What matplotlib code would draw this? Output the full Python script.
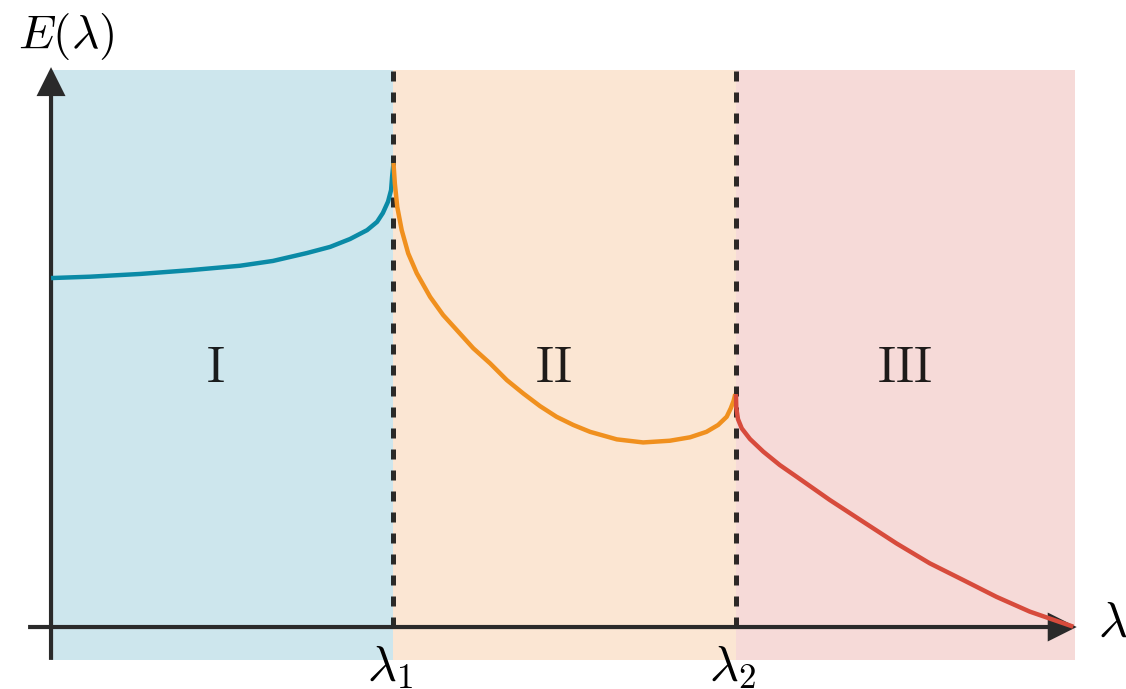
import matplotlib.pyplot as plt
import numpy as np

plt.rcParams['mathtext.fontset'] = 'cm'
plt.rcParams['font.family'] = 'serif'

# phase boundaries
lam1 = 1.0
lam2 = 2.0
lam_end = 2.99

# energy branch in each phase
x_I = [0.0, 0.114, 0.26, 0.406, 0.552, 0.648, 0.747, 0.815, 0.873, 0.923,
       0.952, 0.969, 0.984, 0.993, 0.996, 1.0]
E_I = [1.019, 1.023, 1.031, 1.042, 1.055, 1.069, 1.092, 1.110, 1.133, 1.159,
       1.183, 1.209, 1.242, 1.276, 1.315, 1.355]

x_II = [1.0, 1.004, 1.011, 1.024, 1.043, 1.068, 1.107, 1.145, 1.185, 1.233,
        1.282, 1.331, 1.379, 1.428, 1.476, 1.525, 1.574, 1.652, 1.729, 1.807,
        1.866, 1.914, 1.948, 1.973, 1.985, 1.993, 1.998]
E_II = [1.355, 1.295, 1.227, 1.159, 1.091, 1.033, 0.964, 0.911, 0.867, 0.814,
        0.770, 0.721, 0.682, 0.645, 0.614, 0.590, 0.570, 0.548, 0.539, 0.544,
        0.554, 0.570, 0.590, 0.614, 0.639, 0.660, 0.680]

x_III = [2.0, 2.001, 2.006, 2.017, 2.041, 2.080, 2.128, 2.177, 2.274, 2.372,
         2.469, 2.566, 2.664, 2.761, 2.858, 2.985]
E_III = [0.680, 0.640, 0.607, 0.580, 0.549, 0.512, 0.473, 0.439, 0.371, 0.307,
         0.244, 0.186, 0.137, 0.088, 0.045, 0.001]

phase_names = ['I', 'II', 'III']
phase_edges = [0.0, lam1, lam2, lam_end]
label_x = [0.479, 1.466, 2.493]
shade_colors = ['#cde6ed', '#fbe6d3', '#f6dad8']
line_colors = ['#0a8aa6', '#f0901e', '#d74b3c']

y_top = 1.626
y_bot = -0.096
ink = (0, 0, 0, 0.82)
axis_color = '#2a2a2a'

fig = plt.figure(figsize=(11.26, 6.89), dpi=100)
ax = fig.add_axes([0, 0, 1, 1])
ax.set_xlim(-0.149, 3.139)
ax.set_ylim(-0.181, 1.831)
ax.axis('off')

# background bands for the three phases
for i in range(3):
    ax.fill_between([phase_edges[i], phase_edges[i + 1]], y_bot, y_top,
                    color=shade_colors[i], lw=0, zorder=0)

# phase boundaries
for xb in [lam1, lam2]:
    ax.plot([xb, xb], [0, y_top], color=ink, lw=3.6,
            linestyle=(0, (2.0, 2.2)), zorder=2)

# axes with arrow heads
arrow = dict(arrowstyle='-|>', lw=3, color=axis_color, mutation_scale=40,
             shrinkA=0, shrinkB=0, joinstyle='miter', capstyle='butt')
ax.annotate('', xy=(0, 1.635), xytext=(0, y_bot), arrowprops=arrow, zorder=3)
ax.annotate('', xy=(2.995, 0), xytext=(-0.067, 0), arrowprops=arrow, zorder=3)

# energy curves
for xs, ys, c in zip([x_I, x_II, x_III], [E_I, E_II, E_III], line_colors):
    ax.plot(xs, ys, color=c, lw=3.2, solid_capstyle='butt',
            solid_joinstyle='round', zorder=4)

# labels
for xc, name in zip(label_x, phase_names):
    ax.text(xc, 0.756, r'$\mathrm{%s}$' % name, fontsize=36,
            ha='center', va='center', color=(0, 0, 0, 0.88))

ax.text(0.044, 1.723, r'$E(\lambda)$', fontsize=34, ha='center', va='center')
ax.text(3.1, 0.015, r'$\lambda$', fontsize=36, ha='center', va='center')
ax.text(lam1 - 0.01, -0.115, r'$\lambda_1$', fontsize=36, ha='center', va='center')
ax.text(lam2 - 0.01, -0.115, r'$\lambda_2$', fontsize=36, ha='center', va='center')

fig.savefig('out.png', dpi=100)
